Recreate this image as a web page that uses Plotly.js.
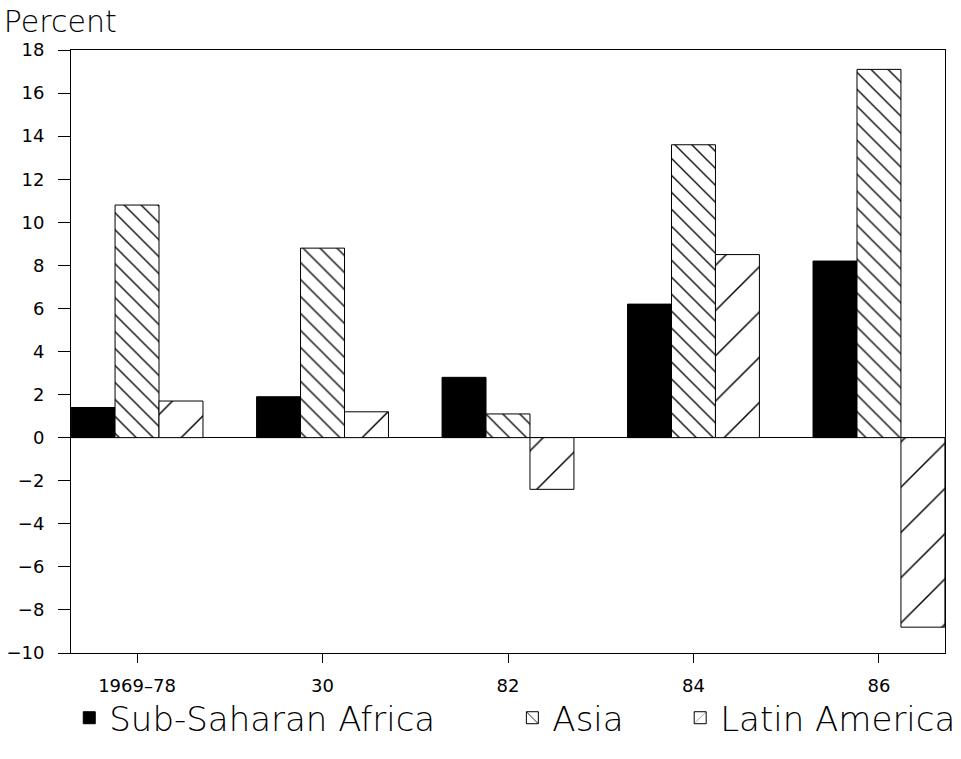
<!DOCTYPE html>
<html>
<head>
<meta charset="utf-8">
<script src="https://cdn.plot.ly/plotly-3.0.1.min.js"></script>
<style>html,body{margin:0;padding:0;background:#fff;}#chart{width:961px;height:759px;}</style>
</head>
<body>
<div id="chart"></div>
<script>
const categories = ["1969–78", "80", "82", "84", "86"];
const tickLabels = ["1969–78", "30", "82", "84", "86"];
const seriesNames = ["Sub-Saharan Africa", "Asia", "Latin America"];
const africa = [1.4, 1.9, 2.8, 6.2, 8.2];
const asia = [10.8, 8.8, 1.1, 13.6, 17.1];
const latin = [1.7, 1.2, -2.4, 8.5, -8.8];
const yTicks = [-10, -8, -6, -4, -2, 0, 2, 4, 6, 8, 10, 12, 14, 16, 18];

const FONT = "DejaVu Sans, Liberation Sans, sans-serif";
const lineStyle = {color: "#000", width: 1};

const traces = [
  {type: "bar", name: seriesNames[0], x: categories, y: africa, legend: "legend",
   marker: {color: "#000", line: lineStyle}},
  {type: "bar", name: seriesNames[1], x: categories, y: asia, legend: "legend2",
   marker: {color: "#fff", line: lineStyle,
            pattern: {shape: "\\", size: 12, solidity: 0.11, fgcolor: "#000", fgopacity: 1,
                      bgcolor: "#fff", fillmode: "overlay"}}},
  {type: "bar", name: seriesNames[2], x: categories, y: latin, legend: "legend3",
   marker: {color: "#fff", line: lineStyle,
            pattern: {shape: "/", size: 32, solidity: 0.045, fgcolor: "#000", fgopacity: 1,
                      bgcolor: "#fff", fillmode: "overlay"}}}
];

const legendBase = {orientation: "h", yanchor: "middle", y: -0.108, xanchor: "left",
  font: {family: FONT, size: 34, color: "#000", weight: 200}, bgcolor: "rgba(0,0,0,0)", borderwidth: 0};

const layout = {
  width: 961, height: 759,
  margin: {l: 71, r: 16, t: 50, b: 106, autoexpand: false},
  paper_bgcolor: "#fff", plot_bgcolor: "#fff",
  barmode: "group", bargap: 0.289, bargroupgap: 0,
  font: {family: FONT, color: "#000"},
  title: {text: "Percent", xref: "container", x: 0.004, xanchor: "left",
          yref: "container", y: 0.972, yanchor: "middle",
          font: {family: FONT, size: 30, color: "#000", weight: 200}},
  xaxis: {type: "category", range: [-0.356, 4.356], tickvals: categories, ticktext: tickLabels,
          showline: true, mirror: true, linecolor: "#000", linewidth: 1,
          ticks: "outside", ticklen: 9, tickcolor: "#000", tickwidth: 1,
          ticklabelstandoff: 7, showgrid: false, zeroline: false,
          tickfont: {family: FONT, size: 18, color: "#000"}},
  yaxis: {range: [-10, 18], tickvals: yTicks,
          showline: true, mirror: true, linecolor: "#000", linewidth: 1,
          ticks: "outside", ticklen: 12, tickcolor: "#000", tickwidth: 1,
          ticklabelstandoff: 10, showgrid: false,
          zeroline: true, zerolinecolor: "#000", zerolinewidth: 1,
          tickfont: {family: FONT, size: 18, color: "#000"}},
  legend: Object.assign({}, legendBase, {x: -0.002}),
  legend2: Object.assign({}, legendBase, {x: 0.505}),
  legend3: Object.assign({}, legendBase, {x: 0.697}),
  showlegend: true
};

Plotly.newPlot("chart", traces, layout, {displayModeBar: false, staticPlot: true});
</script>
</body>
</html>
